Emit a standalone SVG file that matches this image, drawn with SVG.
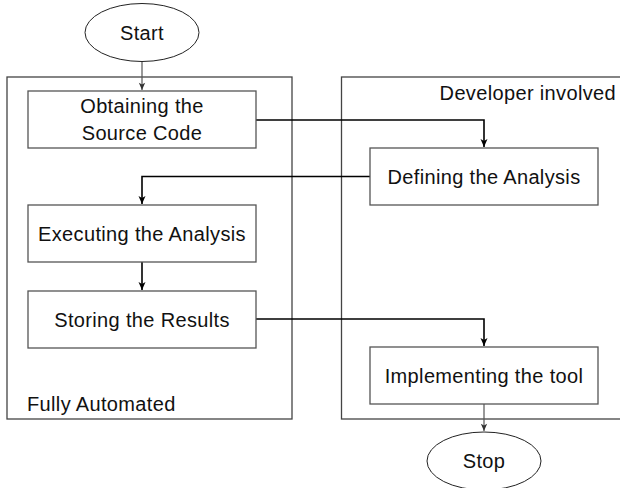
<svg xmlns="http://www.w3.org/2000/svg" width="620" height="488" viewBox="0 0 620 488">
  <style>
    .box { fill: #ffffff; stroke: #555555; stroke-width: 1.3; }
    .cont { fill: none; stroke: #444444; stroke-width: 1.3; }
    .term { fill: #ffffff; stroke: #222222; stroke-width: 1; }
    .lbl { font-family: "Liberation Sans", Arial, Helvetica, sans-serif; font-size: 20px; letter-spacing: 0.35px; fill: #111111; }
    .mid { text-anchor: middle; }
    .conn { fill: none; stroke: #000000; stroke-width: 1.6; }
    .thin { fill: none; stroke: #555555; stroke-width: 1.2; }
  </style>
  <defs>
    <marker id="arr" markerUnits="userSpaceOnUse" markerWidth="10" markerHeight="10" viewBox="0 0 10 10" refX="9" refY="5" orient="auto">
      <path d="M1,1.5 L9,5 L1,8.5 L3,5 Z" fill="#000000"/>
    </marker>
    <marker id="arrg" markerUnits="userSpaceOnUse" markerWidth="9" markerHeight="9" viewBox="0 0 10 10" refX="9" refY="5" orient="auto">
      <path d="M1,1.5 L9,5 L1,8.5 L3,5 Z" fill="#333333"/>
    </marker>
  </defs>

  <g id="lane-automated">
    <rect class="cont" x="7" y="77" width="285" height="342"/>
    <text class="lbl" x="27" y="411">Fully Automated</text>
  </g>
  <g id="lane-developer">
    <rect class="cont" x="341.5" y="77" width="300" height="342"/>
    <text class="lbl" x="616" y="100" text-anchor="end">Developer involved</text>
  </g>

  <g id="connectors">
    <path class="thin" d="M142,62 V90" marker-end="url(#arrg)"/>
    <path class="conn" d="M256,120 H484 V147" marker-end="url(#arr)"/>
    <path class="conn" d="M370,176.5 H142 V204" marker-end="url(#arr)"/>
    <path class="conn" d="M142,262 V290" marker-end="url(#arr)"/>
    <path class="conn" d="M256,319 H484 V346" marker-end="url(#arr)"/>
    <path class="thin" d="M484,404 V431" marker-end="url(#arrg)"/>
  </g>

  <g id="start">
    <ellipse class="term" cx="142" cy="32.5" rx="57" ry="29"/>
    <text class="lbl mid" x="142" y="40">Start</text>
  </g>
  <g id="obtaining">
    <rect class="box" x="28" y="91" width="228" height="57"/>
    <text class="lbl mid" x="142" y="113">Obtaining the</text>
    <text class="lbl mid" x="142" y="140">Source Code</text>
  </g>
  <g id="defining">
    <rect class="box" x="370" y="148" width="228" height="57"/>
    <text class="lbl mid" x="484" y="184">Defining the Analysis</text>
  </g>
  <g id="executing">
    <rect class="box" x="28" y="205" width="228" height="57"/>
    <text class="lbl mid" x="142" y="241">Executing the Analysis</text>
  </g>
  <g id="storing">
    <rect class="box" x="28" y="291" width="228" height="57"/>
    <text class="lbl mid" x="142" y="327">Storing the Results</text>
  </g>
  <g id="implementing">
    <rect class="box" x="370" y="347" width="228" height="57"/>
    <text class="lbl mid" x="484" y="383">Implementing the tool</text>
  </g>
  <g id="stop">
    <ellipse class="term" cx="484" cy="461" rx="57" ry="29"/>
    <text class="lbl mid" x="484" y="468">Stop</text>
  </g>
</svg>
